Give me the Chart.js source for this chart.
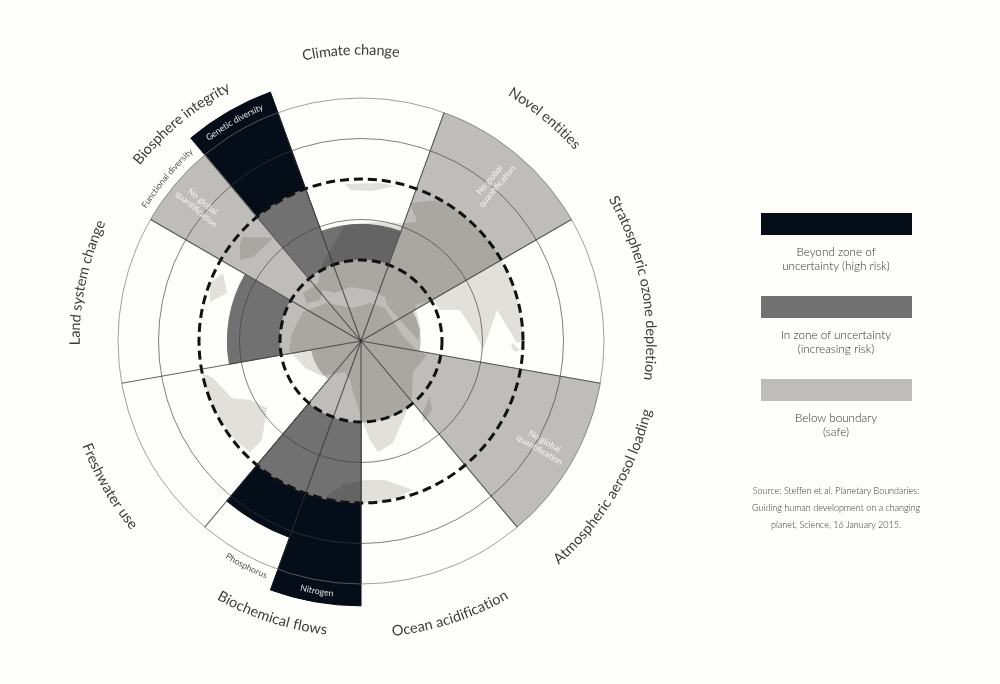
<!DOCTYPE html>
<html lang="en">
<head>
  <meta charset="UTF-8" />
  <title>Planetary boundaries</title>
  <script src="https://cdn.jsdelivr.net/npm/chart.js"></script>
  <style>
    body {
      margin: 0;
      background: #fefefb;
      font-family: Lato, sans-serif;
      font-weight: 300;
      color: #333;
    }
    #wrap { position: relative; width: 1000px; height: 684px; overflow: hidden; }
    canvas { position: absolute; left: 0; top: 0; }
    .bar { position: absolute; left: 761px; width: 151px; height: 22px; }
    .note { position: absolute; left: 731px; width: 210px; text-align: center; font-size: 11.7px; line-height: 14px; }
    #source { position: absolute; left: 731px; width: 210px; top: 482px; text-align: center; font-size: 9px; line-height: 17px; }
  </style>
</head>
<body>
  <div id="wrap">
    <canvas id="chart" width="1000" height="684"></canvas>
    <div id="legend"></div>
    <div id="source">Source: Steffen et al. Planetary Boundaries:<br>Guiding human development on a changing<br>planet, Science, 16 January 2015.</div>
  </div>

  <script>
    // one slice = 20 degrees, clockwise from 340 degrees
    const slices = [
      'Climate change', 'Climate change',
      'Novel entities', 'Novel entities',
      'Stratospheric ozone depletion', 'Stratospheric ozone depletion',
      'Atmospheric aerosol loading', 'Atmospheric aerosol loading',
      'Ocean acidification', 'Ocean acidification',
      'Nitrogen', 'Phosphorus',
      'Freshwater use', 'Freshwater use',
      'Land system change', 'Land system change',
      'Functional diversity', 'Genetic diversity'
    ];
    // values in boundary units: 1 = safe boundary, 2 = end of uncertainty zone
    const safeValues =        [1, 1, 3, 3, 0.73, 0.73, 3, 3, 1, 1, 1, 1, 0.62, 0.62, 1, 1, 3, 1];
    const uncertaintyValues = [1.44, 1.44, 0, 0, 0, 0, 0, 0, 0, 0, 2, 2, 0, 0, 1.65, 1.65, 0, 2];
    const highRiskValues =    [0, 0, 0, 0, 0, 0, 0, 0, 0, 0, 3.27, 2.58, 0, 0, 0, 0, 0, 3.27];
    const ringTicks = [0, 1, 1.5, 2, 2.5, 3];
    const spokeSlices = [0, 2, 4, 6, 8, 10, 11, 12, 14, 16, 17];

    const riskColors = ['#040d18', '#727172', '#bfbdb9'];
    const riskLabels = [
      ['Beyond zone of', 'uncertainty (high risk)'],
      ['In zone of uncertainty', '(increasing risk)'],
      ['Below boundary', '(safe)']
    ];

    // name, angle, radius, reads clockwise
    const outerLabels = [
      ['Climate change', -2, 291, true],
      ['Novel entities', 39.5, 291, true],
      ['Stratospheric ozone depletion', 79, 290, true],
      ['Atmospheric aerosol loading', 121, 294, false],
      ['Ocean acidification', 162, 292, false],
      ['Biochemical flows', 198, 291, false],
      ['Freshwater use', 240, 293, false],
      ['Land system change', 282, 286, true],
      ['Biosphere integrity', 320.5, 287, true]
    ];
    const innerLabels = [
      ['Functional diversity', 310, 255, true, '#555'],
      ['Genetic diversity', 330, 254, true, '#e4e4e4'],
      ['Phosphorus', 207, 253, false, '#555'],
      ['Nitrogen', 190, 254, false, '#e4e4e4']
    ];
    // sector mid angle and radius of the "No global quantification" notes
    const noQuantification = [[40, 206], [120, 209], [310, 211]];

    // rough outline of the globe behind the chart, page pixels
    const land = [
      [[303,312],[292,333],[289,350],[305,368],[322,376],[345,372],[350,380],[353,392],[362,420],[370,440],[378,452],[393,443],[403,420],[412,397],[413,372],[427,355],[417,350],[402,335],[385,308],[370,303],[353,308],[327,303]],
      [[303,293],[318,283],[322,265],[330,250],[345,225],[375,222],[403,223],[417,222],[410,203],[440,200],[470,215],[510,250],[530,300],[530,337],[517,343],[497,310],[483,350],[476,335],[460,310],[440,310],[433,300],[415,305],[421,330],[418,340],[400,320],[387,305],[385,297],[370,290],[350,287],[335,293],[323,290],[320,300],[307,303]],
      [[430,397],[432,410],[423,423],[422,415],[427,402]],
      [[325,497],[345,484],[365,480],[385,480],[413,490],[395,498],[360,510]],
      [[200,372],[213,378],[232,398],[250,400],[267,408],[262,440],[250,452],[235,440],[215,412],[205,395]],
      [[240,245],[242,237],[273,238],[253,257],[240,260]],
      [[210,283],[223,273],[227,293],[210,302]],
      [[345,184],[380,183],[395,186],[372,191],[350,190]],
      [[512,343],[520,350],[515,352],[511,347]]
    ];

    const legendBox = document.getElementById('legend');
    riskLabels.forEach((lines, i) => {
      const top = 213 + i * 83;
      legendBox.innerHTML +=
        `<div class="bar" style="top:${top}px;background:${riskColors[i]}"></div>` +
        `<div class="note" style="top:${top + 31}px">${lines.join('<br>')}</div>`;
    });

    const pagePlugin = {
      id: 'page',
      beforeDraw(chart) {
        const ctx = chart.ctx;
        ctx.save();
        ctx.fillStyle = '#fefefb';
        ctx.fillRect(0, 0, chart.width, chart.height);
        ctx.restore();
      },
      afterDatasetsDraw(chart) {
        const ctx = chart.ctx;
        const r = chart.scales.r;
        ctx.save();
        ctx.beginPath();
        ctx.arc(r.xCenter, r.yCenter, r.getDistanceFromCenterForValue(2), 0, Math.PI * 2);
        ctx.clip();
        ctx.globalCompositeOperation = 'multiply';
        ctx.filter = 'blur(0.7px)';
        ctx.fillStyle = '#e2e1df';
        land.forEach(shape => {
          ctx.beginPath();
          shape.forEach((p, i) => i ? ctx.lineTo(p[0], p[1]) : ctx.moveTo(p[0], p[1]));
          ctx.closePath();
          ctx.fill();
        });
        ctx.restore();
      },
      afterDraw(chart) {
        const ctx = chart.ctx;
        const r = chart.scales.r;
        const cx = r.xCenter, cy = r.yCenter;
        outerLabels.forEach(l => arcText(ctx, cx, cy, l[0], l[1], l[2], l[3], '14.5px Lato', '#3c3c3c'));
        innerLabels.forEach(l => arcText(ctx, cx, cy, l[0], l[1], l[2], l[3], '8.7px Lato', l[4]));
        noQuantification.forEach(n => {
          const a = (n[0] - 90) * Math.PI / 180;
          ctx.save();
          ctx.translate(cx + Math.cos(a) * n[1], cy + Math.sin(a) * n[1]);
          ctx.rotate(n[0] > 180 ? a + Math.PI : a);
          ctx.font = '8.5px Lato';
          ctx.fillStyle = 'rgba(255,255,255,0.85)';
          ctx.textAlign = 'center';
          ctx.textBaseline = 'middle';
          ctx.fillText('No global', 0, -5);
          ctx.fillText('quantification', 0, 5);
          ctx.restore();
        });
      }
    };

    // letters one by one along a circle
    function arcText(ctx, cx, cy, text, angle, radius, clockwise, font, color) {
      ctx.save();
      ctx.font = font;
      ctx.fillStyle = color;
      ctx.textAlign = 'center';
      ctx.textBaseline = 'middle';
      const total = ctx.measureText(text).width;
      const dir = clockwise ? 1 : -1;
      let run = -total / 2;
      for (let i = 0; i < text.length; i++) {
        const w = ctx.measureText(text.slice(0, i + 1)).width - ctx.measureText(text.slice(0, i)).width;
        const a = (angle - 90) * Math.PI / 180 + dir * (run + w / 2) / radius;
        ctx.save();
        ctx.translate(cx + Math.cos(a) * radius, cy + Math.sin(a) * radius);
        ctx.rotate(clockwise ? a + Math.PI / 2 : a - Math.PI / 2);
        ctx.fillText(text[i], 0, 0);
        ctx.restore();
        run += w;
      }
      ctx.restore();
    }

    // same colour border closes the hairline gap between neighbour slices
    const closeSeams = ctx => ctx.raw > 0 ? 1 : 0;

    new Chart(document.getElementById('chart'), {
      type: 'polarArea',
      data: {
        labels: slices,
        datasets: [
          { label: 'Below boundary', data: safeValues, backgroundColor: riskColors[2], borderColor: riskColors[2], borderWidth: closeSeams, clip: false },
          { label: 'In zone of uncertainty', data: uncertaintyValues, backgroundColor: riskColors[1], borderColor: riskColors[1], borderWidth: closeSeams, clip: false },
          { label: 'Beyond zone of uncertainty', data: highRiskValues, backgroundColor: riskColors[0], borderColor: riskColors[0], borderWidth: closeSeams, clip: false }
        ]
      },
      options: {
        responsive: false,
        animation: false,
        layout: { padding: { left: 118, right: 396, top: 98, bottom: 100 } },
        plugins: { legend: { display: false }, tooltip: { enabled: false } },
        scales: {
          r: {
            min: 0,
            max: 3,
            startAngle: -20,
            afterBuildTicks: scale => { scale.ticks = ringTicks.map(v => ({ value: v })); },
            ticks: { display: false },
            pointLabels: { display: false },
            angleLines: {
              display: true,
              color: 'rgba(50,50,50,0.75)',
              lineWidth: ctx => spokeSlices.includes(ctx.index) ? 1.1 : 0
            },
            grid: {
              z: 1,
              circular: true,
              color: ctx => {
                const v = ctx.tick.value;
                if (v === 1 || v === 2) return '#111';
                return v === 3 ? 'rgba(120,120,120,0.7)' : 'rgba(60,60,60,0.65)';
              },
              lineWidth: ctx => (ctx.tick.value === 1 || ctx.tick.value === 2) ? 3 : 1
            },
            border: {
              dash: ctx => (ctx.tick.value === 1 || ctx.tick.value === 2) ? [9, 5] : []
            }
          }
        }
      },
      plugins: [pagePlugin]
    });
  </script>
</body>
</html>
